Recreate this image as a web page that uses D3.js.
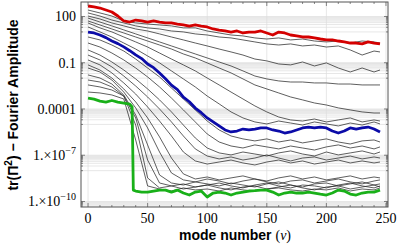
<!DOCTYPE html>
<html>
<head>
<meta charset="utf-8">
<script src="https://cdn.jsdelivr.net/npm/d3@7"></script>
<style>
  body { margin: 0; background: #fff; }
  svg { display: block; }
</style>
</head>
<body>
<svg width="398" height="245"></svg>
<script>
// mode numbers where each curve is sampled
const modes5 = [0,5,10,15,20,25,30,35,40,45,50,55,60,65,70,75,80,85,90,95,100,105,110,115,120,
  125,130,135,140,145,150,155,160,165,170,175,180,185,190,195,200,205,210,215,220,225,230,235,240,245];
const modes10 = [0,10,20,30,40,50,60,70,80,90,100,110,120,130,140,150,160,170,180,190,200,210,220,230,240,245];
const greenModes = [0,5,10,15,20,25,30,35,37,38,40,45,50,55,60,65,70,75,80,85,90,95,100,105,110,115,120,
  125,130,135,140,145,150,155,160,165,170,175,180,185,190,195,200,205,210,215,220,225,230,235,240,245];

// log10 of the amplitude
const redLog = [2.68,2.62,2.55,2.42,2.29,2.03,1.71,1.64,1.77,1.71,1.64,1.71,1.64,1.58,1.58,1.51,1.45,1.38,1.45,1.38,
  1.32,1.19,1.12,1.06,0.99,1.06,0.93,0.99,0.99,1.06,0.93,0.80,0.99,0.93,0.80,0.74,0.67,0.67,0.61,0.54,
  0.48,0.48,0.41,0.35,0.28,0.28,0.22,0.35,0.28,0.22];
const blueLog = [0.99,0.93,0.80,0.63,0.41,0.24,0.03,-0.22,-0.49,-0.73,-1.08,-1.32,-1.67,-2.04,-2.45,-2.75,-3.23,-3.53,-3.94,-4.24,
  -4.58,-4.84,-5.10,-5.36,-5.49,-5.43,-5.30,-5.36,-5.30,-5.23,-5.23,-5.36,-5.43,-5.56,-5.49,-5.36,-5.23,-5.17,-5.23,-5.17,
  -5.23,-5.43,-5.56,-5.43,-5.23,-5.30,-5.23,-5.17,-5.30,-5.49];
const greenLog = [-3.29,-3.36,-3.49,-3.55,-3.45,-3.55,-3.62,-3.68,-3.87,-9.26,-9.32,-9.39,-9.39,-9.32,-9.26,-9.26,-9.39,-9.26,
  -9.45,-9.58,-9.39,-9.32,-9.71,-9.45,-9.39,-9.45,-9.58,-9.45,-9.39,-9.32,-9.30,-9.26,-9.26,-9.39,-9.58,-9.45,-9.39,-9.45,
  -9.45,-9.39,-9.45,-9.52,-9.58,-9.45,-9.26,-9.32,-9.52,-9.58,-9.45,-9.39,-9.39,-9.26];

// thin black curves, sampled at modes10
const blackLogs = [
  [2.42,2.23,2.03,1.71,1.58,1.51,1.45,1.39,1.26,1.26,1.06,0.93,0.80,0.74,0.61,0.54,0.61,0.48,0.54,0.41,0.35,0.41,0.28,0.41,0.35,0.28],
  [2.23,2.03,1.77,1.58,1.39,1.26,1.19,1.06,1.00,0.87,0.80,0.67,0.61,0.48,0.35,0.22,0.15,0.22,0.09,0.15,0.02,0.09,-0.17,-0.50,-0.24,-0.30],
  [2.03,1.84,1.58,1.39,1.19,1.06,0.87,0.67,0.48,0.28,0.09,-0.11,-0.30,-0.50,-0.76,-0.88,-1.08,-1.14,-0.95,-1.21,-1.01,-1.34,-1.60,-1.34,-1.60,-1.47],
  [1.90,1.64,1.39,1.13,0.87,0.61,0.35,0.09,-0.17,-0.43,-0.69,-0.95,-1.21,-1.53,-1.86,-2.05,-2.18,-2.25,-2.25,-2.31,-2.31,-2.38,-2.38,-2.44,-2.44,-2.44],
  [1.71,1.45,1.19,0.93,0.67,0.41,0.15,-0.11,-0.43,-0.69,-1.01,-1.34,-1.66,-2.05,-2.44,-2.70,-2.96,-3.22,-3.41,-3.61,-3.74,-3.93,-4.06,-4.19,-4.26,-4.26],
  [1.58,1.26,1.00,0.67,0.35,0.02,-0.37,-0.76,-1.14,-1.53,-1.99,-2.44,-2.90,-3.35,-3.80,-4.19,-4.52,-4.71,-4.78,-4.65,-4.84,-4.71,-4.58,-4.84,-4.71,-4.78],
  [1.32,1.00,0.67,0.28,-0.11,-0.56,-1.01,-1.53,-2.05,-2.57,-3.16,-3.67,-4.19,-4.58,-4.84,-4.97,-4.78,-4.91,-5.04,-4.84,-4.97,-5.10,-4.91,-5.04,-4.84,-4.97],
  [0.67,0.48,0.15,-0.24,-0.76,-1.34,-1.92,-2.64,-3.35,-4.06,-4.78,-5.36,-5.75,-5.94,-6.07,-5.94,-6.14,-6.01,-6.20,-6.07,-5.94,-6.14,-6.27,-6.07,-6.01,-6.14],
  [0.28,0.02,-0.37,-0.82,-1.34,-1.92,-2.57,-3.29,-4.06,-4.84,-5.62,-6.14,-6.40,-6.53,-6.33,-6.46,-6.59,-6.40,-6.53,-6.66,-6.46,-6.33,-6.53,-6.40,-6.59,-6.46],
  [-0.17,-0.50,-0.95,-1.47,-2.05,-2.70,-3.41,-4.19,-5.04,-5.88,-6.53,-6.85,-6.98,-6.79,-6.92,-7.05,-6.85,-6.72,-6.92,-7.05,-6.79,-6.98,-6.85,-6.72,-6.92,-6.79],
  [-0.50,-0.82,-1.27,-1.86,-2.51,-3.22,-4.00,-4.84,-5.75,-6.59,-7.05,-7.24,-7.11,-7.31,-7.18,-6.98,-7.18,-7.37,-7.18,-7.11,-7.31,-7.18,-7.05,-7.24,-7.11,-7.18],
  [-0.82,-1.14,-1.66,-2.31,-3.03,-3.87,-4.78,-5.75,-6.79,-7.37,-7.57,-7.44,-7.31,-7.50,-7.63,-7.44,-7.31,-7.50,-7.37,-7.57,-7.44,-7.31,-7.50,-7.37,-7.50,-7.44],
  [-1.14,-1.47,-1.99,-2.70,-3.54,-4.58,-5.81,-7.18,-8.21,-8.54,-8.41,-8.60,-8.47,-8.34,-8.54,-8.67,-8.47,-8.34,-8.54,-8.41,-8.60,-8.47,-8.34,-8.54,-8.41,-8.47],
  [-1.34,-1.60,-2.12,-2.90,-3.93,-5.23,-6.79,-8.15,-8.60,-8.73,-8.54,-8.67,-8.86,-8.67,-8.54,-8.73,-8.86,-8.67,-8.60,-8.80,-8.67,-8.54,-8.73,-8.86,-8.67,-8.60],
  [-1.79,-1.99,-2.38,-3.09,-4.39,-6.33,-8.28,-8.80,-8.93,-8.73,-8.86,-8.99,-8.80,-8.93,-9.06,-8.86,-8.73,-8.93,-9.06,-8.86,-8.80,-8.99,-8.86,-8.73,-8.93,-8.86],
  [-2.12,-2.25,-2.57,-3.16,-4.58,-7.31,-8.80,-8.99,-8.86,-9.06,-8.93,-8.80,-8.99,-9.12,-8.93,-8.80,-8.99,-9.12,-8.93,-8.99,-9.12,-8.93,-8.80,-8.99,-9.12,-8.99],
  [-2.44,-2.57,-2.77,-3.16,-5.04,-8.47,-9.12,-8.99,-9.19,-9.06,-8.93,-9.12,-9.25,-9.06,-8.99,-9.19,-9.06,-8.93,-9.12,-9.25,-9.06,-8.99,-9.19,-9.06,-8.93,-9.06],
  [-2.90,-2.96,-3.09,-3.35,-6.01,-8.99,-9.19,-9.32,-9.12,-9.25,-9.19,-9.32,-9.12,-9.25,-9.32,-9.19,-9.12,-9.25,-9.32,-9.19,-9.25,-9.12,-9.32,-9.19,-9.25,-9.12]
];

const xTicks = [0, 50, 100, 150, 200, 250];
const xMinorTicks = [10,20,30,40,60,70,80,90,110,120,130,140,160,170,180,190,210,220,230,240];
const yTickValues = [1e2, 1e-1, 1e-4, 1e-7, 1e-10];
const yTickText = ["100", "0.1", "0.0001", "1.×10|−7", "1.×10|−10"];

let svg = d3.select("svg");
let pLeft = 81, pRight = 388, pTop = 2, pBottom = 207;

let x = d3.scaleLinear().domain([-5.9, 251.7]).range([pLeft, pRight]);
let y = d3.scaleLog().domain([Math.pow(10, -10.357), Math.pow(10, 2.94)]).range([pBottom, pTop]);

// grid: every labelled decade gets lines at 1..9 x 10^(k-1)
let gridY = [];
yTickValues.forEach((v) => {
    gridY.push(v);
    for (let m = 1; m <= 9; m++) gridY.push(m * v / 10);
});
gridY = gridY.filter((d) => y(d) > pTop && y(d) < pBottom);

let grid = svg.append("g").attr("stroke", "#dcdcdc").attr("stroke-width", 0.7);
grid.selectAll("line.gy")
    .data(gridY)
    .enter()
    .append("line")
    .attr("x1", pLeft).attr("x2", pRight)
    .attr("y1", (d) => y(d)).attr("y2", (d) => y(d));
grid.selectAll("line.gx")
    .data(xTicks.filter((d) => x(d) > pLeft && x(d) < pRight))
    .enter()
    .append("line")
    .attr("y1", pTop).attr("y2", pBottom)
    .attr("x1", (d) => x(d)).attr("x2", (d) => x(d));

svg.append("clipPath").attr("id", "clip")
    .append("rect").attr("x", pLeft).attr("y", pTop).attr("width", pRight - pLeft).attr("height", pBottom - pTop);

let line = d3.line()
    .x((d) => x(d[0]))
    .y((d) => y(Math.pow(10, d[1])));

let plot = svg.append("g").attr("clip-path", "url(#clip)");

// thin curves first
plot.selectAll("path.black")
    .data(blackLogs)
    .enter()
    .append("path")
    .attr("fill", "none")
    .attr("stroke", "#2a2a2a")
    .attr("stroke-width", 0.75)
    .attr("stroke-linejoin", "round")
    .attr("d", (vals) => line(vals.map((v, i) => [modes10[i], v])));

let thick = [
    { modes: modes5, vals: redLog, color: "#d40000" },
    { modes: modes5, vals: blueLog, color: "#0b0ba8" },
    { modes: greenModes, vals: greenLog, color: "#19b019" }
];
plot.selectAll("path.thick")
    .data(thick)
    .enter()
    .append("path")
    .attr("fill", "none")
    .attr("stroke", (d) => d.color)
    .attr("stroke-width", 2.8)
    .attr("stroke-linejoin", "round")
    .attr("d", (d) => line(d.vals.map((v, i) => [d.modes[i], v])));

// frame
svg.append("rect")
    .attr("x", pLeft).attr("y", pTop)
    .attr("width", pRight - pLeft).attr("height", pBottom - pTop)
    .attr("fill", "none").attr("stroke", "#555").attr("stroke-width", 1);

// ticks on all four sides, pointing inward
let ticks = svg.append("g").attr("stroke", "#555").attr("stroke-width", 0.7);
xTicks.forEach((d) => {
    ticks.append("line").attr("x1", x(d)).attr("x2", x(d)).attr("y1", pBottom).attr("y2", pBottom - 4);
    ticks.append("line").attr("x1", x(d)).attr("x2", x(d)).attr("y1", pTop).attr("y2", pTop + 4);
});
xMinorTicks.forEach((d) => {
    ticks.append("line").attr("x1", x(d)).attr("x2", x(d)).attr("y1", pBottom).attr("y2", pBottom - 2);
    ticks.append("line").attr("x1", x(d)).attr("x2", x(d)).attr("y1", pTop).attr("y2", pTop + 2);
});
gridY.forEach((d) => {
    let len = yTickValues.includes(d) ? 4 : 2;
    ticks.append("line").attr("x1", pLeft).attr("x2", pLeft + len).attr("y1", y(d)).attr("y2", y(d));
    ticks.append("line").attr("x1", pRight).attr("x2", pRight - len).attr("y1", y(d)).attr("y2", y(d));
});

// tick labels
let serif = "'Liberation Serif', 'DejaVu Serif', serif";
svg.append("g")
    .selectAll("text")
    .data(xTicks)
    .enter()
    .append("text")
    .attr("x", (d) => x(d))
    .attr("y", pBottom + 16)
    .attr("text-anchor", "middle")
    .attr("font-family", serif)
    .attr("font-size", 14)
    .text((d) => d);

let yl = svg.append("g")
    .selectAll("text")
    .data(yTickValues)
    .enter()
    .append("text")
    .attr("x", pLeft - 5)
    .attr("y", (d) => y(d) + 5)
    .attr("text-anchor", "end")
    .attr("font-family", serif)
    .attr("font-size", 14);
yl.each(function (d, i) {
    let parts = yTickText[i].split("|");
    let t = d3.select(this);
    t.append("tspan").text(parts[0]);
    if (parts[1]) {
        t.append("tspan").attr("font-size", 10).attr("dy", -6).text(parts[1]);
    }
});

// axis titles
let xt = svg.append("text")
    .attr("x", 235)
    .attr("y", 240)
    .attr("text-anchor", "middle")
    .attr("font-size", 14);
xt.append("tspan").attr("font-family", "'Liberation Sans', Arial, sans-serif").attr("font-weight", "bold").text("mode number ");
xt.append("tspan").attr("font-family", serif).text("(");
xt.append("tspan").attr("font-family", serif).attr("font-style", "italic").text("ν");
xt.append("tspan").attr("font-family", serif).text(")");

let yt = svg.append("text")
    .attr("transform", "translate(18,105) rotate(-90)")
    .attr("text-anchor", "middle")
    .attr("font-family", "'Liberation Sans', Arial, sans-serif")
    .attr("font-weight", "bold")
    .attr("font-size", 14);
yt.append("tspan").text("tr(Π");
yt.append("tspan").attr("font-size", 10).attr("dy", -6).text("2");
yt.append("tspan").attr("dy", 6).text(") − Fourier Amplitude");
</script>
</body>
</html>
